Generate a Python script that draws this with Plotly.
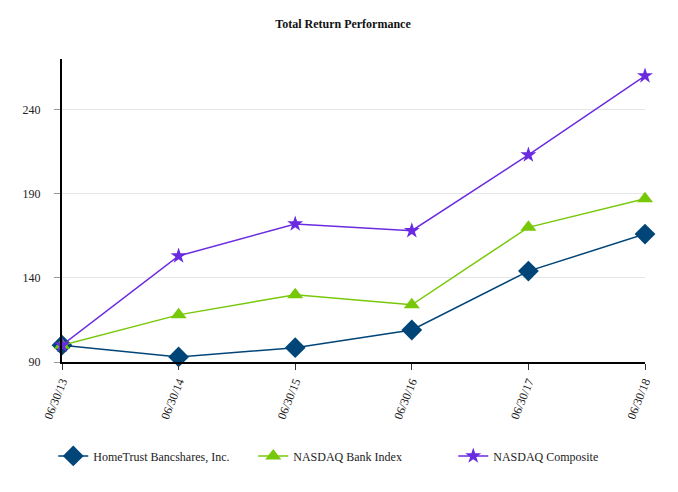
import plotly.graph_objects as go

dates = ["06/30/13", "06/30/14", "06/30/15", "06/30/16", "06/30/17", "06/30/18"]
hometrust = [100, 93, 98.5, 109, 144, 166]
bank_index = [100, 118, 130, 124, 170, 187]
composite = [100, 153, 172, 168, 213, 260]

series = [
    ("HomeTrust Bancshares, Inc.", hometrust, "#004578", "diamond", 16),
    ("NASDAQ Bank Index", bank_index, "#78c80a", "triangle-up", 14),
    ("NASDAQ Composite", composite, "#6a2ae0", "star", 12),
]

fig = go.Figure()
for name, vals, color, symbol, size in series:
    fig.add_trace(go.Scatter(
        x=list(range(len(dates))), y=vals, name=name,
        mode="lines+markers",
        line=dict(color=color, width=1.5),
        marker=dict(symbol=symbol, size=size, color=color),
        cliponaxis=False,
    ))

# page has an 8px body margin, so the figure is drawn a bit smaller
fig.update_layout(
    width=670, height=484,
    margin=dict(l=54, r=33, t=51, b=130),
    paper_bgcolor="white", plot_bgcolor="white",
    font=dict(family="Liberation Serif, DejaVu Serif, serif", size=12, color="#222"),
    title=dict(text="<b>Total Return Performance</b>", x=0.5, xanchor="center",
               y=0.967, yanchor="middle", font=dict(size=12, color="#111")),
    legend=dict(orientation="h", x=-0.015, xanchor="left", y=-0.31, yanchor="middle",
                font=dict(size=12), entrywidth=155, entrywidthmode="pixels"),
    xaxis=dict(
        tickvals=list(range(len(dates))), ticktext=dates, range=[0, 5],
        tickangle=-68, showgrid=False, zeroline=False,
        showline=True, linecolor="black", linewidth=2,
        ticks="outside", ticklen=6, tickcolor="#333",
    ),
    yaxis=dict(
        range=[90, 270], tickvals=[90, 140, 190, 240],
        showgrid=True, gridcolor="#e6e6e6", zeroline=False,
        showline=True, linecolor="black", linewidth=2,
        ticks="outside", ticklen=6, tickcolor="#999",
        ticklabelstandoff=11,
    ),
)

fig.write_html("out.html")
